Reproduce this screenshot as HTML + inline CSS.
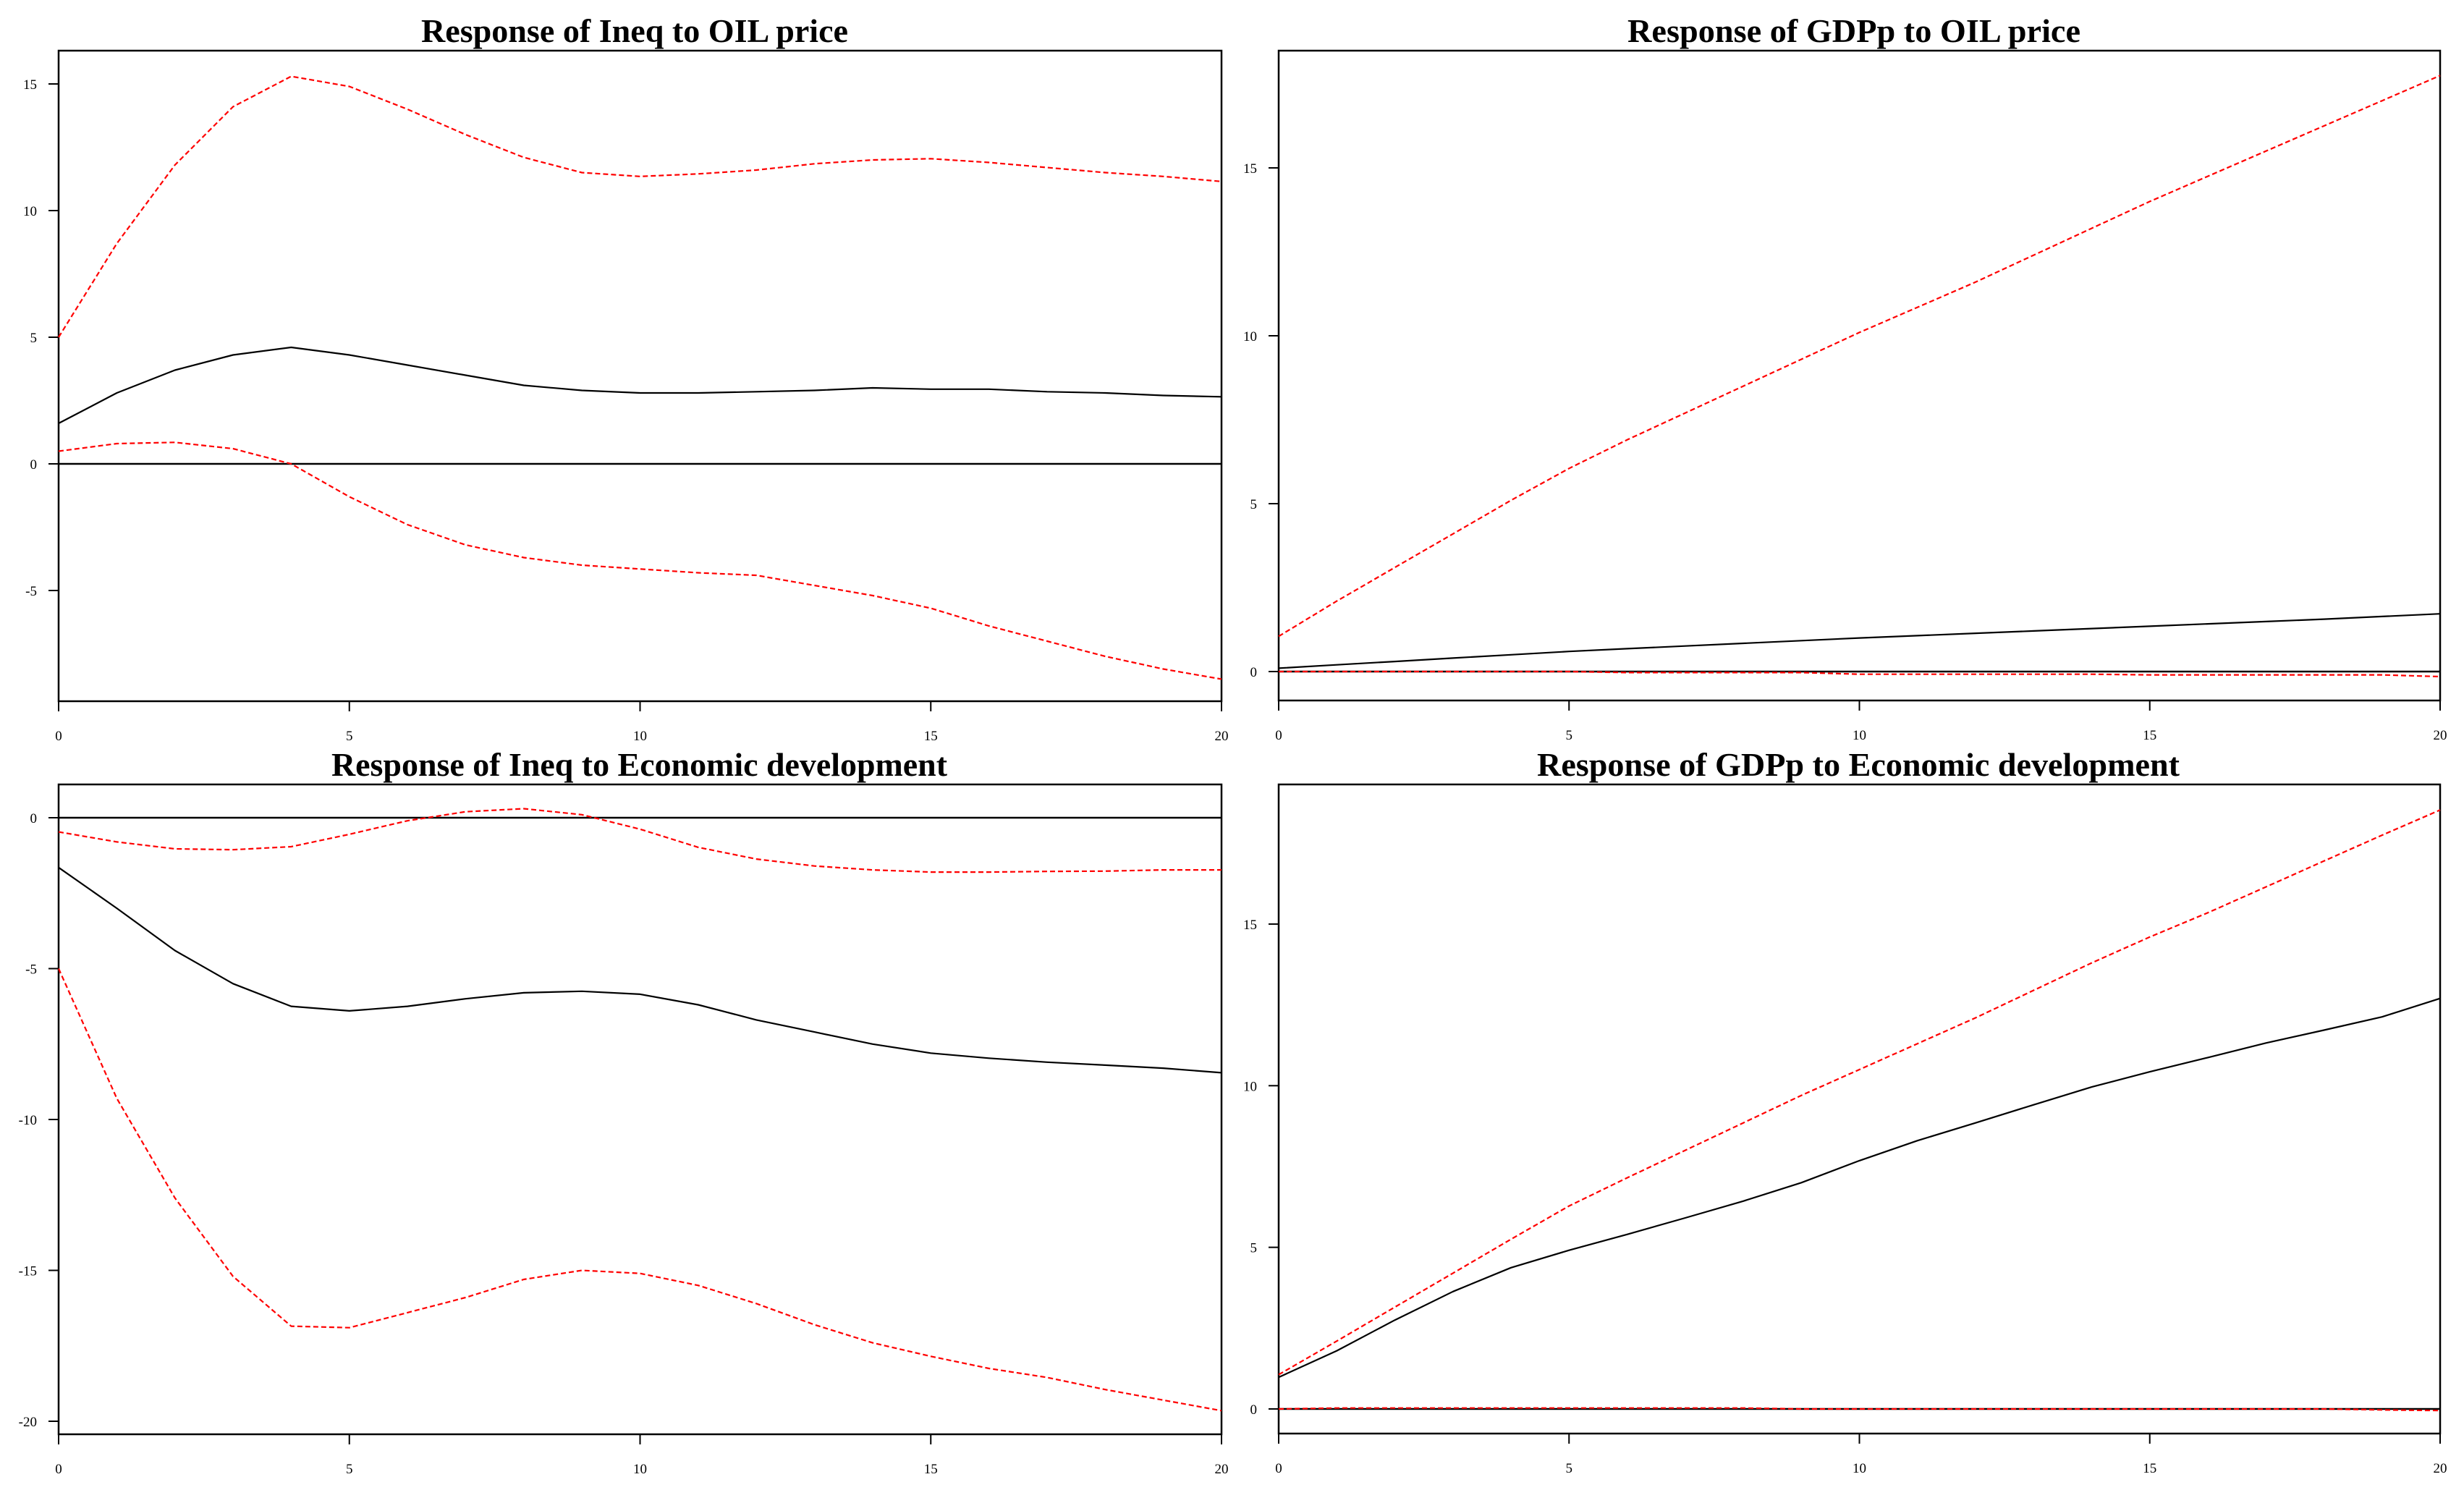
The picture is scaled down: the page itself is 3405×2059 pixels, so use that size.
<!DOCTYPE html>
<html><head><meta charset="utf-8"><style>
html,body{margin:0;padding:0;background:#fff;}
svg{display:block;}
</style></head><body>
<svg id="chart" xmlns="http://www.w3.org/2000/svg" width="3405" height="2059" viewBox="0 0 3405 2059">
<rect x="0" y="0" width="3405" height="2059" fill="#fff"/>
</svg>
<script>
const periods = [0,1,2,3,4,5,6,7,8,9,10,11,12,13,14,15,16,17,18,19,20];
const xTicks = [0,5,10,15,20];

const p1Title = "Response of Ineq to OIL price";
const p1Center = [1.6,2.8,3.7,4.3,4.6,4.3,3.9,3.5,3.1,2.9,2.8,2.8,2.85,2.9,3.0,2.95,2.95,2.85,2.8,2.7,2.65];
const p1Upper = [5.0,8.7,11.8,14.1,15.3,14.9,14.0,13.0,12.1,11.5,11.35,11.45,11.6,11.85,12.0,12.05,11.9,11.7,11.5,11.35,11.15];
const p1Lower = [0.5,0.8,0.85,0.6,0.0,-1.3,-2.4,-3.2,-3.7,-4.0,-4.15,-4.3,-4.4,-4.8,-5.2,-5.7,-6.4,-7.0,-7.6,-8.1,-8.5];
const p1YTicks = [-5,0,5,10,15];

const p2Title = "Response of GDPp to OIL price";
const p2Center = [0.1,0.2,0.3,0.4,0.5,0.6,0.68,0.76,0.84,0.92,1.0,1.07,1.14,1.21,1.28,1.35,1.42,1.49,1.56,1.64,1.72];
const p2Upper = [1.05,2.1,3.1,4.1,5.1,6.05,6.9,7.7,8.5,9.3,10.1,10.85,11.6,12.4,13.2,14.0,14.75,15.5,16.25,17.0,17.75];
const p2Lower = [0,0,0,0,0,0,-0.03,-0.03,-0.03,-0.03,-0.08,-0.08,-0.08,-0.08,-0.08,-0.1,-0.1,-0.1,-0.1,-0.1,-0.15];
const p2YTicks = [0,5,10,15];

const p3Title = "Response of Ineq to Economic development";
const p3Center = [-1.65,-3.0,-4.4,-5.5,-6.25,-6.4,-6.25,-6.0,-5.8,-5.75,-5.85,-6.2,-6.7,-7.1,-7.5,-7.8,-7.97,-8.1,-8.2,-8.3,-8.45];
const p3Upper = [-0.47,-0.8,-1.03,-1.06,-0.96,-0.55,-0.1,0.2,0.3,0.1,-0.38,-0.98,-1.37,-1.6,-1.73,-1.8,-1.8,-1.78,-1.77,-1.73,-1.73];
const p3Lower = [-5.0,-9.3,-12.6,-15.2,-16.85,-16.9,-16.4,-15.9,-15.3,-15.0,-15.1,-15.5,-16.1,-16.8,-17.4,-17.85,-18.25,-18.55,-18.95,-19.3,-19.65];
const p3YTicks = [-20,-15,-10,-5,0];

const p4Title = "Response of GDPp to Economic development";
const p4Center = [0.98,1.8,2.75,3.63,4.37,4.91,5.4,5.91,6.43,7.0,7.68,8.3,8.85,9.41,9.96,10.43,10.87,11.32,11.72,12.13,12.7];
const p4Upper = [1.06,2.1,3.15,4.2,5.25,6.28,7.15,8.0,8.85,9.7,10.5,11.3,12.1,12.95,13.8,14.6,15.35,16.15,16.95,17.75,18.53];
const p4Lower = [0,0.03,0.03,0.03,0.03,0.03,0.03,0.03,0.03,0,0,0,0,0,0,0,0,0,0,-0.03,-0.05];
const p4YTicks = [0,5,10,15];

const NS = "http://www.w3.org/2000/svg";
const svg = document.getElementById('chart');
function mk(tag, attrs, parent){
  const e = document.createElementNS(NS, tag);
  for (const k in attrs) e.setAttribute(k, attrs[k]);
  (parent||svg).appendChild(e);
  return e;
}

function panel(cfg){
  const g = mk('g', {});
  
  
  const L=cfg.left,R=cfg.right,T=cfg.top,B=cfg.bottom;
  const xs = v => L + (v - 0) / 20 * (R - L);
  const ys = v => cfg.y0px - v * cfg.pxPerUnit;
  // title
  const t = mk('text', {x:(cfg.tx0+cfg.tx1)/2, y:cfg.ty, 'text-anchor':'middle', 'font-family':'"Liberation Serif", serif', 'font-weight':'bold', 'font-size':46, textLength:cfg.tx1-cfg.tx0, lengthAdjust:'spacingAndGlyphs', fill:'#000'}, g);
  t.textContent = cfg.title;
  
  
  // frame
  const fr = mk('rect', {x:L, y:T, width:R-L, height:B-T, fill:'none', stroke:'#000', 'stroke-width':2.5}, g);
  
  
  // zero line
  const z = mk('line', {x1:L, x2:R, y1:ys(0), y2:ys(0), stroke:'#000', 'stroke-width':2.5}, g);
  
  
  // x ticks
  xTicks.forEach(v=>{
    const l = mk('line', {x1:xs(v), x2:xs(v), y1:B, y2:B+14, stroke:'#000', 'stroke-width':2}, g);
    
    
    const tx = mk('text', {x:xs(v), y:B+54, 'text-anchor':'middle', 'font-family':'"Liberation Serif", serif', 'font-size':19, fill:'#000'}, g);
    tx.textContent = v;
    
    
  });
  // y ticks
  cfg.yTicks.forEach(v=>{
    const l = mk('line', {x1:L-14, x2:L, y1:ys(v), y2:ys(v), stroke:'#000', 'stroke-width':2}, g);
    
    
    const tx = mk('text', {x:L-30, y:ys(v)+7, 'text-anchor':'end', 'font-family':'"Liberation Serif", serif', 'font-size':19, fill:'#000'}, g);
    tx.textContent = v;
    
    
  });
  // series
  const series = [
    {d:cfg.upper, name:'upper-ci-line', color:'#ff0000', dash:'7,4'},
    {d:cfg.lower, name:'lower-ci-line', color:'#ff0000', dash:'7,4'},
    {d:cfg.center, name:'irf-line', color:'#000', dash:null}
  ];
  series.forEach(s=>{
    const pts = periods.map((p,i)=> xs(p).toFixed(1)+','+ys(s.d[i]).toFixed(1)).join(' ');
    const a = {points:pts, fill:'none', stroke:s.color, 'stroke-width':2.2, 'stroke-linejoin':'round'};
    if (s.dash) a['stroke-dasharray']=s.dash;
    const pl = mk('polyline', a, g);
    
    
  });
}

panel({name:'panel-ineq-oil', title:p1Title, center:p1Center, upper:p1Upper, lower:p1Lower, yTicks:p1YTicks,
  left:81, right:1688, top:70, bottom:969, y0px:641, pxPerUnit:35, tx0:582, tx1:1172, ty:58});
panel({name:'panel-gdpp-oil', title:p2Title, center:p2Center, upper:p2Upper, lower:p2Lower, yTicks:p2YTicks,
  left:1767, right:3372, top:70, bottom:968, y0px:928, pxPerUnit:46.4, tx0:2249, tx1:2875, ty:58});
panel({name:'panel-ineq-econdev', title:p3Title, center:p3Center, upper:p3Upper, lower:p3Lower, yTicks:p3YTicks,
  left:81, right:1688, top:1084, bottom:1982, y0px:1130, pxPerUnit:41.7, tx0:458, tx1:1309, ty:1072});
panel({name:'panel-gdpp-econdev', title:p4Title, center:p4Center, upper:p4Upper, lower:p4Lower, yTicks:p4YTicks,
  left:1767, right:3372, top:1084, bottom:1981, y0px:1947, pxPerUnit:44.67, tx0:2124, tx1:3012, ty:1072});
</script>
</body></html>
